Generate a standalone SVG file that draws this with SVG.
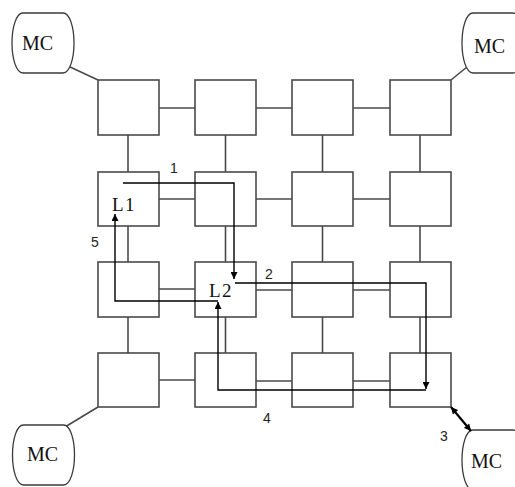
<svg xmlns="http://www.w3.org/2000/svg" width="515" height="487" viewBox="0 0 515 487">
<style>
.box{fill:#fff;stroke:#4a4a4a;stroke-width:1.6}
.link{stroke:#4a4a4a;stroke-width:1.6;fill:none}
.path{stroke:#000;stroke-width:1.4;fill:none}
.mc{fill:#fff;stroke:#3a3a3a;stroke-width:1.3}
.mct{font-family:"Liberation Serif",serif;font-size:20px;fill:#111}
.lt{font-family:"Liberation Serif",serif;font-size:19px;fill:#111;letter-spacing:1.5px}
.num{font-family:"Liberation Sans",sans-serif;font-size:14px;fill:#222}
</style>
<defs>
<path id="mcshape" d="M-20,-30 H20 C27,-30 31,-15 31,0 C31,15 27,30 20,30 H-20 C-27,30 -31,15 -31,0 C-31,-15 -27,-30 -20,-30 Z"/>
<marker id="ah" viewBox="0 0 10 10" refX="10" refY="5" markerWidth="8" markerHeight="7" markerUnits="userSpaceOnUse" orient="auto-start-reverse">
<path d="M0,0 L10,5 L0,10 Z" fill="#000"/>
</marker>
</defs>
<rect width="515" height="487" fill="#fff"/>
<g id="links">
<line class="link" x1="68" y1="66" x2="98" y2="80"/>
<line class="link" x1="451" y1="80" x2="467" y2="67"/>
<line class="link" x1="98" y1="407" x2="65" y2="427"/>
<line class="link" x1="159" y1="108" x2="195" y2="108"/>
<line class="link" x1="256" y1="108" x2="292" y2="108"/>
<line class="link" x1="353" y1="108" x2="390" y2="108"/>
<line class="link" x1="159" y1="199" x2="195" y2="199"/>
<line class="link" x1="256" y1="199" x2="292" y2="199"/>
<line class="link" x1="353" y1="199" x2="390" y2="199"/>
<line class="link" x1="159" y1="289" x2="195" y2="289"/>
<line class="link" x1="256" y1="290" x2="292" y2="290"/>
<line class="link" x1="353" y1="290" x2="390" y2="290"/>
<line class="link" x1="159" y1="380" x2="195" y2="380"/>
<line class="link" x1="256" y1="381" x2="292" y2="381"/>
<line class="link" x1="353" y1="381" x2="390" y2="381"/>
<line class="link" x1="128" y1="135" x2="128" y2="172"/>
<line class="link" x1="225.5" y1="135" x2="225.5" y2="172"/>
<line class="link" x1="322.5" y1="135" x2="322.5" y2="172"/>
<line class="link" x1="420" y1="135" x2="420" y2="172"/>
<line class="link" x1="128" y1="226" x2="128" y2="262"/>
<line class="link" x1="225.5" y1="226" x2="225.5" y2="262"/>
<line class="link" x1="322.5" y1="226" x2="322.5" y2="262"/>
<line class="link" x1="420" y1="226" x2="420" y2="262"/>
<line class="link" x1="128" y1="317" x2="128" y2="353"/>
<line class="link" x1="225.5" y1="317" x2="225.5" y2="353"/>
<line class="link" x1="322.5" y1="317" x2="322.5" y2="353"/>
<line class="link" x1="420" y1="317" x2="420" y2="353"/>
</g>
<g id="mc-tl"><use href="#mcshape" class="mc" transform="translate(43,43)"/><text class="mct" x="22" y="50">MC</text></g>
<g id="mc-tr"><use href="#mcshape" class="mc" transform="translate(493,43)"/><text class="mct" x="474" y="53">MC</text></g>
<g id="mc-bl"><use href="#mcshape" class="mc" transform="translate(43.5,455)"/><text class="mct" x="27" y="461">MC</text></g>
<g id="mc-br"><use href="#mcshape" class="mc" transform="translate(493,460)"/><text class="mct" x="471" y="468">MC</text></g>
<g id="r1c1"><rect class="box" x="98" y="80" width="61" height="55"/></g>
<g id="r1c2"><rect class="box" x="195" y="80" width="61" height="55"/></g>
<g id="r1c3"><rect class="box" x="292" y="80" width="61" height="55"/></g>
<g id="r1c4"><rect class="box" x="390" y="80" width="61" height="55"/></g>
<g id="r2c1"><rect class="box" x="98" y="172" width="61" height="54"/></g>
<g id="r2c2"><rect class="box" x="195" y="172" width="61" height="54"/></g>
<g id="r2c3"><rect class="box" x="292" y="172" width="61" height="54"/></g>
<g id="r2c4"><rect class="box" x="390" y="172" width="61" height="54"/></g>
<g id="r3c1"><rect class="box" x="98" y="262" width="61" height="55"/></g>
<g id="r3c2"><rect class="box" x="195" y="262" width="61" height="55"/></g>
<g id="r3c3"><rect class="box" x="292" y="262" width="61" height="55"/></g>
<g id="r3c4"><rect class="box" x="390" y="262" width="61" height="55"/></g>
<g id="r4c1"><rect class="box" x="98" y="353" width="61" height="54"/></g>
<g id="r4c2"><rect class="box" x="195" y="353" width="61" height="54"/></g>
<g id="r4c3"><rect class="box" x="292" y="353" width="61" height="54"/></g>
<g id="r4c4"><rect class="box" x="390" y="353" width="61" height="54"/></g>
<g id="labels">
<text class="lt" x="112" y="211">L1</text>
<text class="lt" x="209" y="297">L2</text>
<text class="num" x="170" y="173">1</text>
<text class="num" x="265" y="279">2</text>
<text class="num" x="440" y="441">3</text>
<text class="num" x="263" y="423">4</text>
<text class="num" x="91" y="247">5</text>
</g>
<g id="connectors">
<polyline class="path" points="123,183 234,183 234,279" marker-end="url(#ah)"/>
<polyline class="path" points="235,283 426,283 426,389" marker-end="url(#ah)"/>
<polyline class="path" points="426,390 218,390 218,302" marker-end="url(#ah)"/>
<polyline class="path" points="218,301 115,301 115,214" marker-end="url(#ah)"/>
<line x1="451" y1="407" x2="471" y2="431" stroke="#000" stroke-width="2.2" marker-start="url(#ah)" marker-end="url(#ah)"/>
</g>
</svg>
